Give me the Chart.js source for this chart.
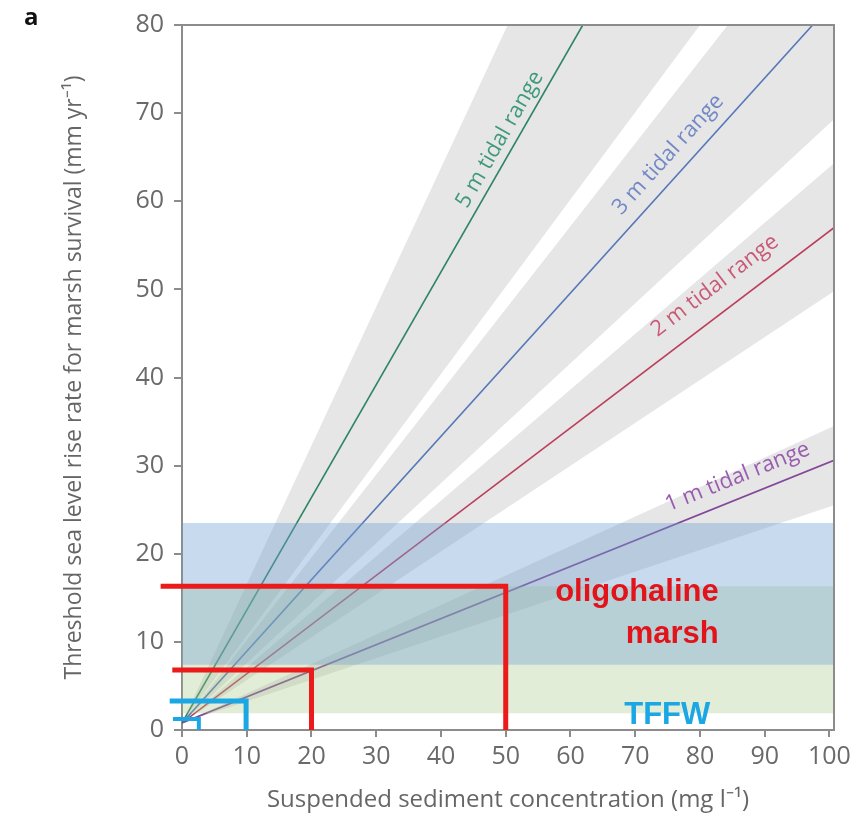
<!DOCTYPE html>
<html>
<head>
<meta charset="utf-8">
<script src="https://cdn.jsdelivr.net/npm/chart.js@4.4.1/dist/chart.umd.min.js"></script>
<style>
  html, body { margin: 0; padding: 0; background: #fff; }
  #wrap { width: 859px; height: 816px; position: relative; }
</style>
</head>
<body>
<div id="wrap"><canvas id="marshChart"></canvas></div>
<script>
// axis ticks
const sscTicks = [0, 10, 20, 30, 40, 50, 60, 70, 80, 90, 100];
const slrTicks = [0, 10, 20, 30, 40, 50, 60, 70, 80];
const xMax = 100.7;

// threshold lines: start near origin, end where they leave the frame
const tidalLabels = ["5 m tidal range", "3 m tidal range", "2 m tidal range", "1 m tidal range"];
const tidalColors = ["#2e8466", "#5677b8", "#bb3f5c", "#83479a"];
const tidalTextColors = ["#3f9a7c", "#7389c6", "#c95a76", "#9a5cb0"];
const tidalX = [[0, 61.9], [0, 97.4], [0, 100.7], [0, 100.7]];
const tidalY = [[0.8, 80], [0.8, 80], [0.8, 57.0], [0.8, 30.6]];
const tidalLabelX = [49.1, 75.1, 82.3, 85.8];
const tidalLabelY = [67.0, 65.3, 50.4, 28.7];

// grey uncertainty wedges (corners)
const wedgeX = [
  [0, 50.3, 80.0],
  [0, 84.3, 100.7, 100.7],
  [0, 100.7, 100.7],
  [0, 100.7, 100.7],
];
const wedgeY = [
  [0.8, 80, 80],
  [0.8, 80, 80, 69.3],
  [0.8, 64.3, 49.8],
  [0.8, 34.5, 25.5],
];

// habitat bands
const bandTop = [23.5, 16.3];
const bandBottom = [7.4, 1.9];
const bandColors = ["rgba(110, 160, 210, 0.38)", "rgba(165, 200, 130, 0.32)"];

// red / cyan thresholds
const stepX = [[-3.3, 50, 50], [-1.5, 20, 20], [-1.9, 9.9, 9.9], [-1.4, 2.6, 2.6]];
const stepY = [[16.3, 16.3, 0], [6.8, 6.8, 0], [3.3, 3.3, 0], [1.25, 1.25, 0]];
const stepColors = ["#ec1b1b", "#ec1b1b", "#1ba6e4", "#1ba6e4"];
const stepWidths = [5, 5, 5, 4];

const datasets = [];

stepX.forEach((xs, i) => {
  datasets.push({
    data: xs.map((v, j) => ({ x: v, y: stepY[i][j] })),
    borderColor: stepColors[i],
    borderWidth: stepWidths[i],
    borderJoinStyle: "miter",
    borderCapStyle: "butt",
    pointRadius: 0,
    fill: false,
    clip: false,
    order: 0,
  });
});

bandTop.forEach((top, i) => {
  datasets.push({
    data: [{ x: 0, y: top }, { x: xMax, y: top }],
    borderColor: "rgba(0,0,0,0)",
    backgroundColor: bandColors[i],
    pointRadius: 0,
    fill: { value: bandBottom[i] },
    order: 1,
  });
});

tidalX.forEach((xs, i) => {
  datasets.push({
    data: xs.map((v, j) => ({ x: v, y: tidalY[i][j] })),
    borderColor: tidalColors[i],
    borderWidth: 1.6,
    pointRadius: 0,
    fill: false,
    order: 2,
  });
});

wedgeX.forEach((xs, i) => {
  datasets.push({
    data: xs.map((v, j) => ({ x: v, y: wedgeY[i][j] })),
    borderColor: "rgba(0,0,0,0)",
    backgroundColor: "#e6e6e6",
    pointRadius: 0,
    fill: "shape",
    order: 3,
  });
});

// frame on top/right and text labels
const annotate = {
  id: "annotate",
  afterDatasetsDraw(chart) {
    const { ctx, chartArea: a, scales: { x, y } } = chart;
    ctx.save();
    ctx.strokeStyle = "#8c8c8c";
    ctx.lineWidth = 2;
    ctx.beginPath();
    ctx.moveTo(a.left, a.top);
    ctx.lineTo(a.right, a.top);
    ctx.lineTo(a.right, a.bottom);
    ctx.stroke();

    tidalLabels.forEach((label, i) => {
      const ang = Math.atan2(
        y.getPixelForValue(tidalY[i][1]) - y.getPixelForValue(tidalY[i][0]),
        x.getPixelForValue(tidalX[i][1]) - x.getPixelForValue(tidalX[i][0])
      );
      ctx.save();
      ctx.translate(x.getPixelForValue(tidalLabelX[i]), y.getPixelForValue(tidalLabelY[i]));
      ctx.rotate(ang);
      ctx.font = '22px "Open Sans"';
      ctx.fillStyle = tidalTextColors[i];
      ctx.textAlign = "center";
      ctx.textBaseline = "middle";
      ctx.fillText(label, 0, 0);
      ctx.restore();
    });

    ctx.font = 'bold 31px "Liberation Sans"';
    ctx.textBaseline = "alphabetic";
    ctx.textAlign = "right";
    ctx.fillStyle = "#e3131b";
    ctx.fillText("oligohaline", x.getPixelForValue(82.9), y.getPixelForValue(14.6));
    ctx.fillText("marsh", x.getPixelForValue(82.9), y.getPixelForValue(9.9));
    ctx.textAlign = "left";
    ctx.fillStyle = "#1ba6e4";
    ctx.fillText("TFFW", x.getPixelForValue(68.3), y.getPixelForValue(0.7));

    ctx.font = 'bold 24px "Open Sans"';
    ctx.fillStyle = "#111";
    ctx.fillText("a", 24, 25);
    ctx.restore();
  },
};

const ctx = document.getElementById("marshChart").getContext("2d");

new Chart(ctx, {
  type: "line",
  data: { datasets },
  options: {
    responsive: true,
    maintainAspectRatio: false,
    animation: false,
    events: [],
    layout: { padding: { top: 24, right: 25, left: 0, bottom: 0 } },
    plugins: {
      legend: { display: false },
      tooltip: { enabled: false },
    },
    elements: { line: { tension: 0 } },
    scales: {
      x: {
        type: "linear",
        min: 0,
        max: xMax,
        afterFit: (scale) => { scale.height = 86; },
        afterBuildTicks: (scale) => { scale.ticks = sscTicks.map((v) => ({ value: v })); },
        ticks: {
          padding: 5,
          color: "#6a6a6a",
          font: { family: "Open Sans", size: 25 },
          maxRotation: 0,
        },
        grid: { drawOnChartArea: false, drawTicks: true, tickLength: 7, color: "#8c8c8c", lineWidth: 2 },
        border: { display: true, color: "#8c8c8c", width: 2 },
        title: {
          display: true,
          text: "Suspended sediment concentration (mg l\u207B\u00B9)",
          color: "#666",
          font: { family: "Open Sans", size: 24 },
          padding: { top: 0, bottom: 1 },
        },
      },
      y: {
        min: 0,
        max: 80,
        afterFit: (scale) => { scale.width = 182; },
        afterBuildTicks: (scale) => { scale.ticks = slrTicks.map((v) => ({ value: v })); },
        ticks: {
          padding: 10,
          color: "#6a6a6a",
          font: { family: "Open Sans", size: 25 },
        },
        grid: { drawOnChartArea: false, drawTicks: true, tickLength: 8, color: "#8c8c8c", lineWidth: 2 },
        border: { display: true, color: "#8c8c8c", width: 2 },
        title: {
          display: true,
          text: "Threshold sea level rise rate for marsh survival (mm yr\u207B\u00B9)",
          color: "#666",
          font: { family: "Open Sans", size: 23 },
          padding: { top: 61, bottom: 0 },
        },
      },
    },
  },
  plugins: [annotate],
});
</script>
</body>
</html>
